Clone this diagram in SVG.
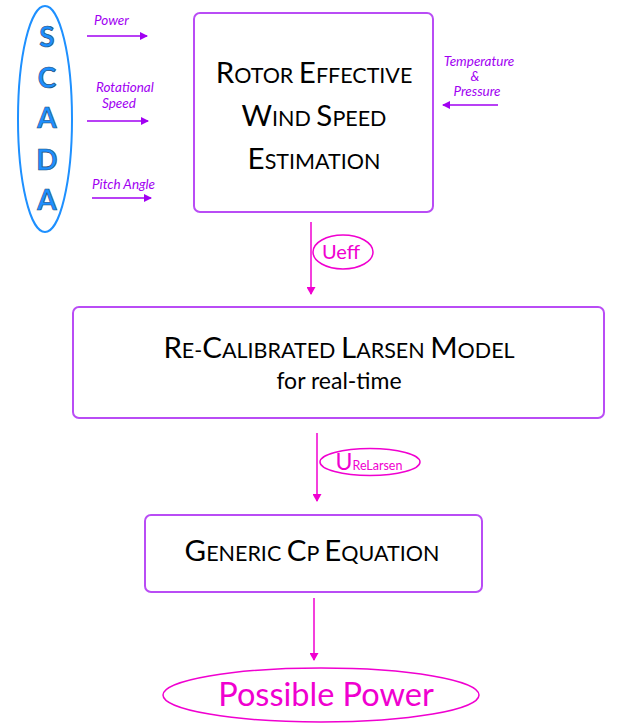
<svg xmlns="http://www.w3.org/2000/svg" width="617" height="725" viewBox="0 0 617 725">
<defs>
<marker id="ap" markerWidth="8" markerHeight="8" refX="7" refY="4" orient="auto" markerUnits="userSpaceOnUse"><path d="M0,0 L8,4 L0,8 z" fill="#A100F2"/></marker>
<marker id="am" markerWidth="8" markerHeight="9" refX="7" refY="4.5" orient="auto" markerUnits="userSpaceOnUse"><path d="M0,0 L8,4.5 L0,9 z" fill="#F000D0"/></marker>
<style>
.box{fill:#fff;stroke:#B94CF5;stroke-width:2}
.t{font-family:Lato,"Liberation Sans",sans-serif;fill:#000;text-anchor:middle}
.lbl{font-family:Lato,"Liberation Sans",sans-serif;font-style:italic;fill:#A100F2;font-size:13.5px}
.scada{font-family:Lato,"Liberation Sans",sans-serif;font-weight:bold;font-size:28px;fill:#1E90FF;stroke:#1F4E79;stroke-width:0.7;text-anchor:middle}
.pa{stroke:#A100F2;stroke-width:1.5;fill:none;marker-end:url(#ap)}
.ma{stroke:#F000D0;stroke-width:1.5;fill:none;marker-end:url(#am)}
.pk{fill:none;stroke:#F000D0;stroke-width:1.5}
.pkt{font-family:Lato,"Liberation Sans",sans-serif;fill:#F000D0;text-anchor:middle}
.bg{font-size:29.5px}
.sm{font-size:21.5px}
</style>
</defs>
<rect width="617" height="725" fill="#fff"/>
<g id="scada">
<ellipse cx="45" cy="119" rx="27" ry="113" fill="none" stroke="#1E90FF" stroke-width="2"/>
<text class="scada" x="47" y="47">S</text>
<text class="scada" x="47" y="88">C</text>
<text class="scada" x="47" y="128">A</text>
<text class="scada" x="47" y="170">D</text>
<text class="scada" x="47" y="210">A</text>
</g>
<g id="rews">
<rect class="box" x="194" y="13" width="239" height="199" rx="6"/>
<text class="t" x="314" y="83"><tspan class="bg">R</tspan><tspan class="sm">OTOR </tspan><tspan class="bg">E</tspan><tspan class="sm">FFECTIVE</tspan></text>
<text class="t" x="314" y="126"><tspan class="bg">W</tspan><tspan class="sm">IND </tspan><tspan class="bg">S</tspan><tspan class="sm">PEED</tspan></text>
<text class="t" x="314" y="169"><tspan class="bg">E</tspan><tspan class="sm">STIMATION</tspan></text>
</g>
<g id="larsen">
<rect class="box" x="73" y="307" width="531" height="111" rx="6"/>
<text class="t" x="339" y="358"><tspan class="bg">R</tspan><tspan class="sm">E-</tspan><tspan class="bg">C</tspan><tspan class="sm">ALIBRATED </tspan><tspan class="bg">L</tspan><tspan class="sm">ARSEN </tspan><tspan class="bg">M</tspan><tspan class="sm">ODEL</tspan></text>
<text class="t" x="339" y="389" font-size="23">for real-time</text>
</g>
<g id="cp">
<rect class="box" x="145" y="515" width="337" height="77" rx="6"/>
<text class="t" x="312" y="561"><tspan class="bg" font-size="31.5">G</tspan><tspan class="sm">ENERIC </tspan><tspan class="bg" font-size="31.5">C</tspan><tspan class="sm">P </tspan><tspan class="bg" font-size="31.5">E</tspan><tspan class="sm">QUATION</tspan></text>
</g>
<g id="possible">
<ellipse class="pk" cx="321" cy="695" rx="158" ry="27"/>
<text class="pkt" x="326" y="706" font-size="32.5">Possible Power</text>
</g>
<g id="ueff">
<ellipse class="pk" cx="343" cy="252" rx="30" ry="17"/>
<text class="pkt" x="341" y="259" font-size="20">Ueff</text>
</g>
<g id="urelarsen">
<ellipse class="pk" cx="370" cy="462" rx="50" ry="13.5"/>
<text class="pkt" x="369" y="470"><tspan font-size="23">U</tspan><tspan font-size="12.5">ReLarsen</tspan></text>
</g>
<g id="labels">
<text class="lbl" x="94" y="25">Power</text>
<text class="lbl" x="96" y="92">Rotational</text>
<text class="lbl" x="102" y="108">Speed</text>
<text class="lbl" x="92" y="189">Pitch Angle</text>
<text class="lbl" font-size="8" text-anchor="middle"><tspan x="479" y="66">Temperature</tspan><tspan x="475" y="81">&amp;</tspan><tspan x="477" y="96">Pressure</tspan></text>
</g>
<g id="connectors">
<line class="pa" x1="87" y1="36" x2="147" y2="36"/>
<line class="pa" x1="87" y1="121" x2="148" y2="121"/>
<line class="pa" x1="92" y1="198" x2="151" y2="198"/>
<line class="pa" x1="498" y1="105" x2="443" y2="105"/>
<line class="ma" x1="311" y1="222" x2="311" y2="294"/>
<line class="ma" x1="317" y1="433" x2="317" y2="501"/>
<line class="ma" x1="314" y1="598" x2="314" y2="660"/>
</g>
</svg>
